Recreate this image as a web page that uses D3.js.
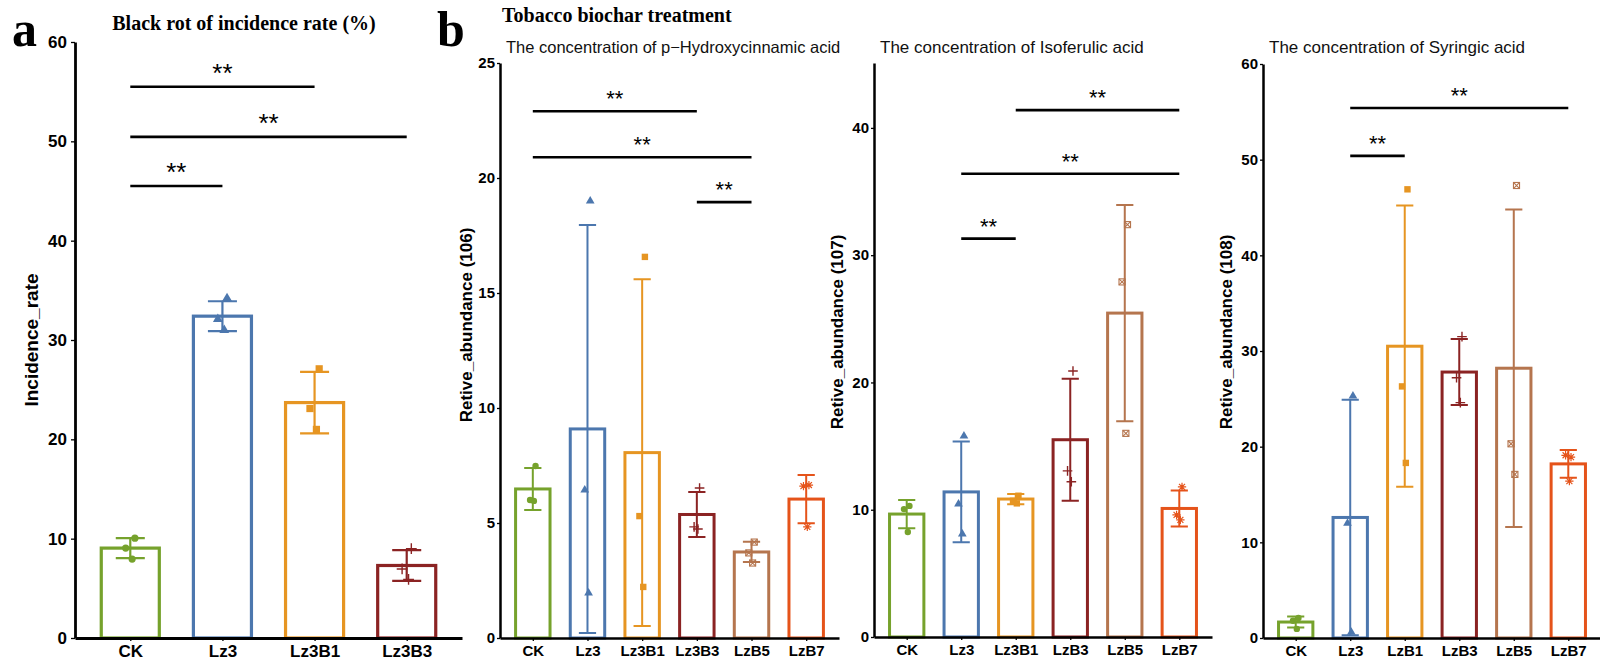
<!DOCTYPE html>
<html>
<head>
<meta charset="utf-8">
<script src="https://cdn.jsdelivr.net/npm/d3@7"></script>
<style>
  body { margin: 0; background: #fff; }
  svg { display: block; }
</style>
</head>
<body>
<div id="chart"></div>
<script>
// ---- panel a : black rot incidence
const groupsA = ['CK', 'Lz3', 'Lz3B1', 'Lz3B3'];
const incidenceMean = [9.05, 32.4, 23.7, 7.3];
const incidenceSd = [1.0, 1.5, 3.1, 1.55];
const incidencePts = [[10.05, 9.05, 7.95], [34.2, 32.1, 31.0], [27.1, 23.1, 21.0], [9.0, 6.95, 5.9]];
const incidenceSig = [['CK', 'Lz3B1', 55.5], ['CK', 'Lz3B3', 50.45], ['CK', 'Lz3', 45.5]];
const incidenceTicks = [0, 10, 20, 30, 40, 50, 60];

// ---- panel b : p-Hydroxycinnamic acid
const groupsHyd = ['CK', 'Lz3', 'Lz3B1', 'Lz3B3', 'LzB5', 'LzB7'];
const hydMean = [6.48, 9.09, 8.06, 5.37, 3.74, 6.04];
const hydSd = [0.91, 8.87, 7.54, 0.98, 0.44, 1.05];
const hydPts = [[7.48, 6.0, 5.96], [19.0, 6.43, 1.96], [16.57, 5.3, 2.22], [6.52, 4.83, 4.74], [4.17, 3.7, 3.26], [6.65, 6.6, 4.83]];
const hydSig = [['CK', 'Lz3B3', 22.9], ['CK', 'LzB5', 20.9], ['Lz3B3', 'LzB5', 18.95]];
const hydTicks = [0, 5, 10, 15, 20, 25];

// ---- panel b : Isoferulic acid
const groupsIso = ['CK', 'Lz3', 'Lz3B1', 'LzB3', 'LzB5', 'LzB7'];
const isoMean = [9.66, 11.4, 10.84, 15.5, 25.45, 10.1];
const isoSd = [1.11, 3.96, 0.4, 4.8, 8.5, 1.42];
const isoPts = [[10.3, 10.05, 8.25], [15.8, 10.45, 8.1], [11.1, 10.7, 10.5], [20.9, 13.05, 12.2], [32.4, 27.9, 16.0], [11.8, 9.6, 9.2]];
const isoSig = [['Lz3B1', 'LzB7', 41.4], ['Lz3', 'LzB7', 36.4], ['Lz3', 'Lz3B1', 31.3]];
const isoTicks = [0, 10, 20, 30, 40];

// ---- panel b : Syringic acid
const groupsSyr = ['CK', 'Lz3', 'LzB1', 'LzB3', 'LzB5', 'LzB7'];
const syrMean = [1.67, 12.6, 30.5, 27.8, 28.2, 18.2];
const syrSd = [0.58, 12.3, 14.7, 3.45, 16.6, 1.45];
const syrPts = [[2.1, 1.8, 0.95], [25.3, 12.0, 0.6], [46.9, 26.3, 18.3], [31.5, 27.2, 24.6], [47.3, 20.3, 17.1], [18.9, 19.1, 16.4]];
const syrSig = [['Lz3', 'LzB7', 55.4], ['Lz3', 'LzB1', 50.4]];
const syrTicks = [0, 10, 20, 30, 40, 50, 60];

const groupColor = {
  CK: '#76A22C', Lz3: '#4C77AE', Lz3B1: '#E69522', LzB1: '#E69522',
  Lz3B3: '#8B2323', LzB3: '#8B2323', LzB5: '#B5754E', LzB7: '#E5531A'
};
const shapeOrder = ['circle', 'triangle', 'square', 'plus', 'squareX', 'asterisk'];
const jitter = [0.05, -0.05, 0.02]; // fixed offsets, in steps

const SANS = '"Liberation Sans", Arial, sans-serif';
const SERIF = '"Liberation Serif", "Times New Roman", serif';

const svg = d3.select('#chart').append('svg')
  .attr('width', 1600)
  .attr('height', 663);

function drawShape(g, type, cx, cy, color, s) {
  if (type === 'circle') {
    g.append('circle').attr('cx', cx).attr('cy', cy).attr('r', s).attr('fill', color);
  } else if (type === 'triangle') {
    g.append('path')
      .attr('d', d3.symbol().type(d3.symbolTriangle).size(s * s * 3.2)())
      .attr('transform', `translate(${cx},${cy})`)
      .attr('fill', color);
  } else if (type === 'square') {
    g.append('rect').attr('x', cx - s).attr('y', cy - s)
      .attr('width', 2 * s).attr('height', 2 * s).attr('fill', color);
  } else if (type === 'plus') {
    const h = s * 1.5;
    g.append('path')
      .attr('d', `M${cx - h},${cy}H${cx + h}M${cx},${cy - h}V${cy + h}`)
      .attr('stroke', color).attr('stroke-width', 1.4).attr('fill', 'none');
  } else if (type === 'squareX') {
    const h = s * 0.95;
    g.append('rect').attr('x', cx - h).attr('y', cy - h)
      .attr('width', 2 * h).attr('height', 2 * h)
      .attr('fill', 'none').attr('stroke', color).attr('stroke-width', 1.1);
    g.append('path')
      .attr('d', `M${cx - h},${cy - h}L${cx + h},${cy + h}M${cx - h},${cy + h}L${cx + h},${cy - h}`)
      .attr('stroke', color).attr('stroke-width', 1.1);
  } else if (type === 'asterisk') {
    const h = s * 1.3, k = h * 0.72;
    g.append('path')
      .attr('d', `M${cx - h},${cy}H${cx + h}M${cx},${cy - h}V${cy + h}` +
                 `M${cx - k},${cy - k}L${cx + k},${cy + k}M${cx - k},${cy + k}L${cx + k},${cy - k}`)
      .attr('stroke', color).attr('stroke-width', 1.2).attr('fill', 'none');
  }
}

function drawPanel(p) {
  const x = d3.scalePoint().domain(p.groups).range([p.left, p.right]).padding(0.6);
  const y = d3.scaleLinear().domain([0, p.yMax]).range([p.bottom, p.top]);
  const bw = x.step() * 0.63;
  const g = svg.append('g');

  // bars
  g.selectAll('.bar')
    .data(p.groups)
    .enter()
    .append('rect')
      .attr('x', d => x(d) - bw / 2)
      .attr('y', (d, i) => y(p.mean[i]))
      .attr('width', bw)
      .attr('height', (d, i) => y(0) - y(p.mean[i]))
      .attr('fill', '#fff')
      .attr('stroke', d => groupColor[d])
      .attr('stroke-width', p.barStroke);

  // error bars (mean +- sd)
  p.groups.forEach((grp, i) => {
    const cx = x(grp);
    const hi = y(p.mean[i] + p.sd[i]);
    const lo = y(Math.max(0, p.mean[i] - p.sd[i]));
    const cap = bw * 0.25;
    g.append('path')
      .attr('d', `M${cx},${hi}V${lo}M${cx - cap},${hi}H${cx + cap}M${cx - cap},${lo}H${cx + cap}`)
      .attr('stroke', groupColor[grp])
      .attr('stroke-width', p.errStroke)
      .attr('fill', 'none');
  });

  // replicate points
  p.groups.forEach((grp, i) => {
    p.pts[i].forEach((v, j) => {
      drawShape(g, shapeOrder[i], x(grp) + jitter[j] * x.step(), y(v), groupColor[grp], p.ptSize);
    });
  });

  // y axis
  const yAxis = g.append('g')
    .attr('transform', `translate(${p.left},0)`)
    .call(d3.axisLeft(y).tickValues(p.ticks).tickSize(p.tickLen).tickSizeOuter(0).tickPadding(p.tickPad));
  // x axis
  const xAxis = g.append('g')
    .attr('transform', `translate(0,${p.bottom})`)
    .call(d3.axisBottom(x).tickSize(3).tickSizeOuter(0));

  [yAxis, xAxis].forEach(ax => {
    ax.select('.domain').attr('stroke', '#000').attr('stroke-width', p.axisStroke);
    ax.selectAll('.tick line').attr('stroke', '#000').attr('stroke-width', 1.3);
    ax.selectAll('text')
      .attr('font-family', SANS)
      .attr('font-weight', 'bold')
      .attr('fill', '#000');
  });
  yAxis.selectAll('text').attr('font-size', p.tickFont);
  xAxis.selectAll('text')
    .attr('font-size', p.catFont)
    .attr('y', p.catY)
    .attr('dy', 0);

  // axis title
  g.append('text')
    .attr('transform', `translate(${p.yTitleX},${p.yTitleY}) rotate(-90)`)
    .attr('text-anchor', 'middle')
    .attr('font-family', SANS)
    .attr('font-weight', 'bold')
    .attr('font-size', p.yTitleFont)
    .text(p.yTitle);

  // panel subtitle
  if (p.subtitle) {
    g.append('text')
      .attr('x', p.left + 6)
      .attr('y', 53)
      .attr('font-family', SANS)
      .attr('font-size', p.subFont)
      .attr('fill', '#111')
      .text(p.subtitle);
  }

  // significance brackets
  p.sig.forEach(([from, to, v]) => {
    const yy = y(v);
    g.append('line')
      .attr('x1', x(from)).attr('x2', x(to))
      .attr('y1', yy).attr('y2', yy)
      .attr('stroke', '#000')
      .attr('stroke-width', 2.6);
    g.append('text')
      .attr('x', (x(from) + x(to)) / 2)
      .attr('y', yy - 5)
      .attr('text-anchor', 'middle')
      .attr('font-family', SANS)
      .attr('font-size', p.starFont)
      .text('**');
  });
}

const panels = [
  { groups: groupsA, mean: incidenceMean, sd: incidenceSd, pts: incidencePts, sig: incidenceSig,
    ticks: incidenceTicks, yMax: 60, left: 75, right: 462, top: 42, bottom: 638,
    yTitle: 'Incidence_rate', yTitleX: 38, yTitleY: 340, yTitleFont: 19,
    tickFont: 17, catFont: 17, catY: 19, tickLen: 4, tickPad: 4, starFont: 26,
    barStroke: 3.2, errStroke: 2.2, axisStroke: 2.8, ptSize: 3.6 },
  { groups: groupsHyd, mean: hydMean, sd: hydSd, pts: hydPts, sig: hydSig,
    ticks: hydTicks, yMax: 25, left: 500, right: 839, top: 63, bottom: 638,
    yTitle: 'Retive_abundance (106)', yTitleX: 472, yTitleY: 325, yTitleFont: 17,
    tickFont: 15, catFont: 15, catY: 18, tickLen: 3, tickPad: 2, starFont: 22,
    barStroke: 3, errStroke: 2, axisStroke: 2.5, ptSize: 3.2, subFont: 16.5,
    subtitle: 'The concentration of p\u2212Hydroxycinnamic acid' },
  { groups: groupsIso, mean: isoMean, sd: isoSd, pts: isoPts, sig: isoSig,
    ticks: isoTicks, yMax: 45.1, left: 874, right: 1212, top: 63, bottom: 637,
    yTitle: 'Retive_abundance (107)', yTitleX: 843, yTitleY: 332, yTitleFont: 17,
    tickFont: 15, catFont: 15, catY: 18, tickLen: 3, tickPad: 2, starFont: 22,
    barStroke: 3, errStroke: 2, axisStroke: 2.5, ptSize: 3.2, subFont: 17,
    subtitle: 'The concentration of Isoferulic acid' },
  { groups: groupsSyr, mean: syrMean, sd: syrSd, pts: syrPts, sig: syrSig,
    ticks: syrTicks, yMax: 60, left: 1263, right: 1601, top: 64, bottom: 638,
    yTitle: 'Retive_abundance (108)', yTitleX: 1232, yTitleY: 332, yTitleFont: 17,
    tickFont: 15, catFont: 15, catY: 18, tickLen: 3, tickPad: 2, starFont: 22,
    barStroke: 3, errStroke: 2, axisStroke: 2.5, ptSize: 3.2, subFont: 17,
    subtitle: 'The concentration of Syringic acid' }
];

panels.forEach(drawPanel);

// panel letters and headings
svg.append('text')
  .attr('x', 12).attr('y', 46)
  .attr('font-family', SERIF).attr('font-weight', 'bold').attr('font-size', 50)
  .text('a');
svg.append('text')
  .attr('x', 437).attr('y', 46)
  .attr('font-family', SERIF).attr('font-weight', 'bold').attr('font-size', 50)
  .text('b');
svg.append('text')
  .attr('x', 244).attr('y', 30)
  .attr('text-anchor', 'middle')
  .attr('font-family', SERIF).attr('font-weight', 'bold').attr('font-size', 20)
  .text('Black rot of incidence rate (%)');
svg.append('text')
  .attr('x', 502).attr('y', 22)
  .attr('font-family', SERIF).attr('font-weight', 'bold').attr('font-size', 20)
  .text('Tobacco biochar treatment');
</script>
</body>
</html>
